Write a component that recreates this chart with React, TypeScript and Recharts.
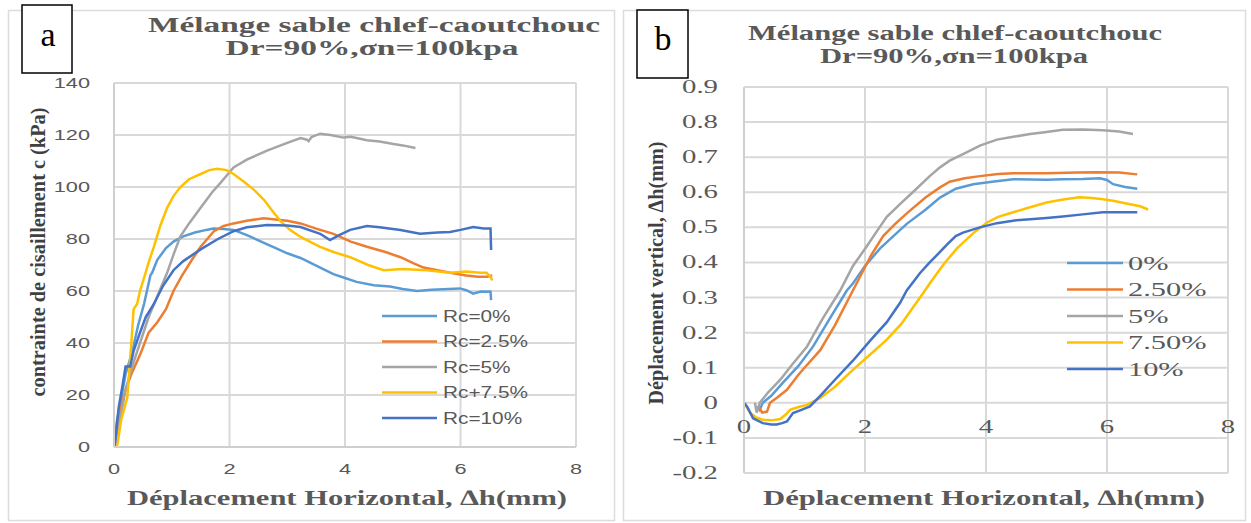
import React from 'react';
import { LineChart, Line, XAxis, YAxis, CartesianGrid, Legend } from 'recharts';

type P = [number, number];

// ---------- Panel a : shear stress (kPa) vs horizontal displacement (mm)
const namesA = ['Rc=0%', 'Rc=2.5%', 'Rc=5%', 'Rc+7.5%', 'Rc=10%'];
const namesB = ['0%', '2.50%', '5%', '7.50%', '10%'];
const colors = ['#5B9BD5', '#ED7D31', '#A5A5A5', '#FFC000', '#4472C4'];
const xTicks = [0, 2, 4, 6, 8];
const yTicksA = [0, 20, 40, 60, 80, 100, 120, 140];
const yTicksB = [-0.2, -0.1, 0, 0.1, 0.2, 0.3, 0.4, 0.5, 0.6, 0.7, 0.8, 0.9];

const shear0: P[] = [[0,0],[0.05,10],[0.11,17],[0.2,28],[0.32,37],[0.42,47],[0.52,55],[0.6,63],[0.63,66],[0.66,67],[0.75,72],[0.9,76.5],[1.03,79],[1.2,81],[1.4,82.5],[1.6,83.5],[1.72,84],[1.9,83.8],[2.07,83.5],[2.3,81.5],[2.5,79.5],[2.8,76.5],[3.0,74.5],[3.23,72.7],[3.57,69],[3.8,66.5],[4.0,65],[4.2,63.5],[4.5,62.2],[4.78,61.7],[5.0,60.8],[5.25,60],[5.5,60.5],[5.8,60.8],[5.99,61],[6.1,60.3],[6.22,59],[6.35,59.8],[6.52,59.7],[6.53,56.5]];
const shear25: P[] = [[0,0],[0.05,8],[0.1,14],[0.2,22],[0.3,28],[0.46,36],[0.6,44],[0.75,48],[0.9,53],[1.03,60],[1.18,66],[1.35,72],[1.5,77],[1.73,83],[1.9,85],[2.07,86],[2.3,87],[2.59,88],[2.8,87.5],[3.0,87],[3.23,86],[3.5,84],[3.8,82],[4.1,79],[4.38,77],[4.7,75],[4.96,73],[5.2,70.5],[5.36,69],[5.6,68],[5.82,67],[6.1,66],[6.3,65.5],[6.46,65.5],[6.55,66]];
const shear5: P[] = [[0,0],[0.1,10],[0.2,22],[0.3,30],[0.45,40],[0.6,50],[0.75,58],[0.92,67],[1.03,74],[1.15,81],[1.3,86],[1.5,92],[1.7,98],[1.84,101.5],[2.07,107.5],[2.3,110.5],[2.65,114],[3.0,117],[3.23,118.8],[3.34,118.2],[3.37,117.6],[3.42,119.2],[3.57,120.5],[3.75,120],[3.97,119],[4.1,119.3],[4.38,118],[4.6,117.5],[4.84,116.5],[5.0,116],[5.22,115]];
const shear75: P[] = [[0,0],[0.06,1],[0.12,10],[0.23,19],[0.3,40],[0.34,53],[0.4,55],[0.45,60],[0.52,65],[0.6,71],[0.69,77],[0.8,85],[0.92,92],[1.03,96.5],[1.15,100],[1.3,103],[1.5,105],[1.65,106.5],[1.79,107],[1.95,106.5],[2.07,105],[2.25,102],[2.42,99],[2.6,95],[2.77,90],[2.9,86.5],[3.05,83.5],[3.23,80.8],[3.57,77],[3.8,75],[4.09,73],[4.4,70],[4.67,68],[5.0,68.5],[5.42,68],[5.82,67],[6.1,67.5],[6.34,67],[6.45,67],[6.52,65.5],[6.55,64]];
const shear10: P[] = [[0,0],[0.02,1.5],[0.08,15],[0.15,24],[0.2,31],[0.28,31],[0.34,37],[0.45,44],[0.55,50],[0.69,55],[0.85,62],[1.03,68],[1.2,71.5],[1.5,76],[1.8,80],[2.07,83],[2.3,84.5],[2.65,85.4],[3.0,85.2],[3.23,84.6],[3.57,82],[3.74,79.6],[3.9,81.5],[4.09,83.5],[4.38,85],[4.6,84.5],[4.96,83.5],[5.3,82],[5.6,82.5],[5.82,82.7],[6.0,83.5],[6.22,84.6],[6.4,84],[6.52,84],[6.53,75.8]];

// ---------- Panel b : vertical displacement (mm) vs horizontal displacement (mm)
const vert0: P[] = [[0.22,-0.01],[0.26,-0.02],[0.31,0],[0.45,0.02],[0.64,0.057],[0.9,0.105],[1.14,0.16],[1.4,0.235],[1.7,0.32],[1.8,0.34],[2.0,0.39],[2.25,0.44],[2.5,0.48],[2.69,0.51],[3.0,0.55],[3.24,0.585],[3.5,0.61],[3.79,0.623],[4.1,0.63],[4.45,0.637],[5.0,0.636],[5.27,0.637],[5.6,0.638],[5.88,0.64],[6.0,0.635],[6.1,0.623],[6.3,0.615],[6.5,0.61]];
const vert25: P[] = [[0.24,-0.01],[0.3,-0.028],[0.38,-0.025],[0.43,0],[0.55,0.015],[0.71,0.037],[0.9,0.08],[1.0,0.1],[1.26,0.15],[1.5,0.22],[1.8,0.32],[1.92,0.36],[2.1,0.42],[2.3,0.475],[2.5,0.51],[2.69,0.54],[3.0,0.585],[3.24,0.614],[3.4,0.63],[3.65,0.64],[3.9,0.646],[4.2,0.652],[4.45,0.654],[5.0,0.654],[5.5,0.656],[5.83,0.657],[6.2,0.656],[6.5,0.651]];
const vert5: P[] = [[0.18,0],[0.21,-0.028],[0.26,0],[0.4,0.03],[0.6,0.066],[0.8,0.11],[1.04,0.16],[1.3,0.24],[1.59,0.32],[1.8,0.39],[2.03,0.446],[2.2,0.49],[2.36,0.53],[2.6,0.57],[2.79,0.6],[3.07,0.646],[3.24,0.671],[3.4,0.69],[3.62,0.709],[3.9,0.733],[4.18,0.75],[4.45,0.758],[4.73,0.766],[5.0,0.772],[5.27,0.778],[5.6,0.779],[5.93,0.777],[6.2,0.773],[6.43,0.766]];
const vert75: P[] = [[0,0],[0.1,-0.028],[0.2,-0.042],[0.31,-0.048],[0.45,-0.05],[0.6,-0.046],[0.7,-0.032],[0.76,-0.02],[0.9,-0.012],[1.04,-0.006],[1.26,0.014],[1.5,0.045],[1.8,0.094],[2.1,0.14],[2.36,0.18],[2.6,0.225],[2.91,0.3],[3.07,0.34],[3.3,0.395],[3.52,0.44],[3.8,0.485],[4.02,0.514],[4.2,0.53],[4.45,0.543],[4.7,0.556],[5.0,0.571],[5.3,0.58],[5.55,0.586],[5.75,0.584],[5.93,0.58],[6.1,0.576],[6.38,0.566],[6.55,0.56],[6.68,0.551]];
const vert10: P[] = [[0,0],[0.05,-0.01],[0.15,-0.044],[0.31,-0.058],[0.45,-0.062],[0.54,-0.062],[0.63,-0.058],[0.71,-0.053],[0.81,-0.029],[0.95,-0.02],[1.09,-0.01],[1.26,0.02],[1.5,0.065],[1.8,0.12],[2.1,0.18],[2.36,0.23],[2.58,0.285],[2.69,0.32],[2.91,0.37],[3.07,0.4],[3.24,0.43],[3.35,0.45],[3.5,0.475],[3.62,0.485],[3.9,0.5],[4.18,0.512],[4.5,0.52],[4.73,0.523],[5.0,0.527],[5.27,0.531],[5.6,0.537],[5.93,0.543],[6.2,0.543],[6.5,0.543]];

const seriesA = [shear0, shear25, shear5, shear75, shear10];
const seriesB = [vert0, vert25, vert5, vert75, vert10];

const toPts = (arr: P[]) => arr.map(([x, y]) => ({ x, y }));

const GRID = '#d9d9d9';
const TXT = '#595959';
const SERIF = "'Liberation Serif', 'Times New Roman', serif";
const SANS = "'Liberation Sans', Arial, sans-serif";

const TickA = (props: any) => {
  const { x, y, payload, anchor } = props;
  return (
    <text transform={`translate(${x},${y}) scale(1.45,1)`} textAnchor={anchor} dominantBaseline="central"
      fontFamily={SANS} fontSize={15} fill={TXT}>{payload.value}</text>
  );
};

const fmtB = (v: number) => (Math.abs(v) < 1e-9 ? '0' : v.toFixed(1));

const TickBY = (props: any) => {
  const { x, y, payload } = props;
  return (
    <text transform={`translate(${x},${y}) scale(1.6,1)`} textAnchor="end" dominantBaseline="central"
      fontFamily={SERIF} fontSize={18} fill={TXT}>{fmtB(payload.value)}</text>
  );
};

const TickBX = (props: any) => {
  const { x, y, payload } = props;
  return (
    <text transform={`translate(${x},${y - 46}) scale(1.6,1)`} textAnchor="middle" dominantBaseline="central"
      fontFamily={SERIF} fontSize={18} fill={TXT}>{payload.value}</text>
  );
};

const makeLegend = (order: string[], cfg: { dy: number; len: number; tx: number; sx: number; font: string; size: number }) =>
  (props: any) => {
    const payload: any[] = props.payload || [];
    const items = order.map((n) => payload.find((p) => p.value === n)).filter(Boolean);
    return (
      <svg width={240} height={140} style={{ overflow: 'visible', display: 'block' }}>
        {items.map((it: any, i: number) => {
          const yy = 12 + i * cfg.dy;
          return (
            <g key={it.value}>
              <line x1={2} x2={2 + cfg.len} y1={yy} y2={yy} stroke={it.color} strokeWidth={2.5} />
              <text transform={`translate(${cfg.tx},${yy}) scale(${cfg.sx},1)`} dominantBaseline="central"
                fontFamily={cfg.font} fontSize={cfg.size} fill={TXT}>{it.value}</text>
            </g>
          );
        })}
      </svg>
    );
  };

const legendA = makeLegend(namesA, { dy: 25.5, len: 55, tx: 63, sx: 1.3, font: SANS, size: 16 });
const legendB = makeLegend(namesB, { dy: 26.5, len: 56, tx: 63, sx: 1.6, font: SERIF, size: 19 });

export default function App() {
  return (
    <div style={{ position: 'absolute', left: 0, top: 0, width: 1251, height: 523, background: '#fff', overflow: 'hidden' }}>
      {/* Panel a */}
      <div style={{ position: 'absolute', left: 0, top: 0 }}>
        <LineChart width={615} height={523} margin={{ top: 83, right: 39, bottom: 46, left: 54 }}>
          <CartesianGrid stroke={GRID} strokeWidth={2} />
          <XAxis dataKey="x" type="number" domain={[0, 8]} ticks={xTicks} allowDataOverflow height={30}
            axisLine={{ stroke: '#cfcfcf', strokeWidth: 2 }} tickLine={false} tickSize={0} tickMargin={22}
            tick={(p: any) => <TickA {...p} anchor="middle" />} />
          <YAxis type="number" domain={[0, 140]} ticks={yTicksA} allowDataOverflow width={60}
            axisLine={{ stroke: '#cfcfcf', strokeWidth: 2 }} tickLine={false} tickSize={0} tickMargin={24}
            tick={(p: any) => <TickA {...p} anchor="end" />} />
          {seriesA.map((s, i) => (
            <Line key={namesA[i]} name={namesA[i]} data={toPts(s)} dataKey="y" type="linear" stroke={colors[i]}
              strokeWidth={2.5} dot={false} activeDot={false} isAnimationActive={false} />
          ))}
          <Legend layout="vertical" align="center" verticalAlign="middle" content={legendA}
            wrapperStyle={{ left: 380, top: 304, width: 240, height: 140 }} />
        </LineChart>
      </div>

      {/* Panel b */}
      <div style={{ position: 'absolute', left: 620, top: 0 }}>
        <LineChart width={631} height={523} margin={{ top: 87, right: 23, bottom: 20, left: 64 }}>
          <CartesianGrid stroke={GRID} strokeWidth={2} />
          <XAxis dataKey="x" type="number" domain={[0, 8]} ticks={xTicks} allowDataOverflow height={30}
            axisLine={{ stroke: GRID, strokeWidth: 2 }} tickLine={false} tickSize={0} tickMargin={0}
            tick={(p: any) => <TickBX {...p} />} />
          <YAxis type="number" domain={[-0.2, 0.9]} ticks={yTicksB} allowDataOverflow width={60}
            axisLine={{ stroke: '#cfcfcf', strokeWidth: 2 }} tickLine={false} tickSize={0} tickMargin={26}
            tick={(p: any) => <TickBY {...p} />} />
          {seriesB.map((s, i) => (
            <Line key={namesB[i]} name={namesB[i]} data={toPts(s)} dataKey="y" type="linear" stroke={colors[i]}
              strokeWidth={2.5} dot={false} activeDot={false} isAnimationActive={false} />
          ))}
          <Legend layout="vertical" align="center" verticalAlign="middle" content={legendB}
            wrapperStyle={{ left: 445, top: 251, width: 240, height: 140 }} />
        </LineChart>
      </div>

      {/* Titles, frames, axis titles */}
      <svg width={1251} height={523} style={{ position: 'absolute', left: 0, top: 0, pointerEvents: 'none' }}>
        <rect x={8.5} y={10.5} width={606} height={510} fill="none" stroke="#dcdcdc" strokeWidth={1.5} />
        <rect x={623.5} y={10.5} width={622} height={510} fill="none" stroke="#dcdcdc" strokeWidth={1.5} />

        <rect x={22} y={5} width={50} height={68} fill="#fff" stroke="#000" strokeWidth={1.5} />
        <text x={48} y={46} textAnchor="middle" fontFamily={SERIF} fontSize={34} fill="#000">a</text>
        <rect x={637} y={10} width={51} height={68} fill="#fff" stroke="#000" strokeWidth={1.5} />
        <text x={663} y={50} textAnchor="middle" fontFamily={SERIF} fontSize={34} fill="#000">b</text>

        <text x={374} y={32} textAnchor="middle" textLength={452} lengthAdjust="spacingAndGlyphs"
          fontFamily={SERIF} fontWeight="bold" fontSize={20} fill={TXT}>Mélange sable chlef-caoutchouc</text>
        <text x={372} y={55} textAnchor="middle" textLength={293} lengthAdjust="spacingAndGlyphs"
          fontFamily={SERIF} fontWeight="bold" fontSize={20} fill={TXT}>Dr=90%,σn=100kpa</text>
        <text x={955} y={40} textAnchor="middle" textLength={414} lengthAdjust="spacingAndGlyphs"
          fontFamily={SERIF} fontWeight="bold" fontSize={20} fill={TXT}>Mélange sable chlef-caoutchouc</text>
        <text x={954} y={63} textAnchor="middle" textLength={268} lengthAdjust="spacingAndGlyphs"
          fontFamily={SERIF} fontWeight="bold" fontSize={20} fill={TXT}>Dr=90%,σn=100kpa</text>

        <text x={347} y={505} textAnchor="middle" textLength={440} lengthAdjust="spacingAndGlyphs"
          fontFamily={SERIF} fontWeight="bold" fontSize={22} fill={TXT}>Déplacement Horizontal, ∆h(mm)</text>
        <text x={984} y={505} textAnchor="middle" textLength={442} lengthAdjust="spacingAndGlyphs"
          fontFamily={SERIF} fontWeight="bold" fontSize={22} fill={TXT}>Déplacement Horizontal, ∆h(mm)</text>

        <text transform="translate(37,252) rotate(-90)" textAnchor="middle" dominantBaseline="central"
          textLength={289} lengthAdjust="spacingAndGlyphs" fontFamily={SERIF} fontWeight="bold" fontSize={22}
          fill="#404040">contrainte de cisaillement c (kPa)</text>
        <text transform="translate(655,273) rotate(-90)" textAnchor="middle" dominantBaseline="central"
          textLength={263} lengthAdjust="spacingAndGlyphs" fontFamily={SERIF} fontWeight="bold" fontSize={22}
          fill="#404040">Déplacement vertical, ∆h(mm)</text>
      </svg>
    </div>
  );
}
